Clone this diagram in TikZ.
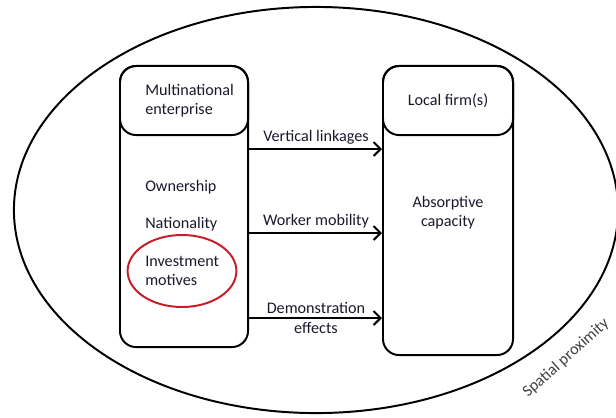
\documentclass[tikz,border=0pt]{standalone}
\usepackage{fontspec}
\setmainfont{Carlito}
\usetikzlibrary{arrows.meta,shapes.geometric,positioning}
\definecolor{rojo}{RGB}{196,30,40}
\definecolor{texto}{RGB}{25,25,45}
\begin{document}
\begin{tikzpicture}[x=0.025cm,y=-0.025cm,
        font=\fontsize{11.5}{13.5}\selectfont,text=texto,
        caja/.style={draw,line width=1.4pt,rounded corners=0.4cm,inner sep=0pt},
        flecha/.style={-{Straight Barb[length=5pt,width=10pt]},line width=1.4pt},
        etiq/.style={inner sep=2pt}]
        \useasboundingbox (0,0) rectangle (616,417);
        % Elipse exterior
        \node[draw,ellipse,line width=1.4pt,minimum width=15.1cm,minimum height=10.15cm] (prox) at (316,210) {};
        \node[rotate=42,text=black!75] (spat) at (566,358) {Spatial proximity};
        % Caja izquierda
        \node[caja,minimum width=3.2cm,minimum height=7.025cm] (izq) at (184,206.5) {};
        \node[caja,minimum width=3.2cm,minimum height=1.725cm] (izqcab) at (184,100.5) {};
        \node[anchor=west,align=left,inner sep=0pt] (mne) at (145,101) {Multinational\\enterprise};
        \node[anchor=west,inner sep=0pt] (own) at (145,187) {Ownership};
        \node[anchor=west,inner sep=0pt] (nat) at (145,224) {Nationality};
        \node[anchor=west,align=left,inner sep=0pt] (inv) at (145,271) {Investment\\motives};
        \node[draw=rojo,ellipse,line width=1.4pt,minimum width=2.72cm,minimum height=1.8cm] (motivos) at (182,271) {};
        % Caja derecha
        \node[caja,minimum width=3.25cm,minimum height=7.225cm] (der) at (448,210.5) {};
        \node[caja,minimum width=3.25cm,minimum height=1.725cm] (dercab) at (448,100.5) {Local firm(s)};
        \node[align=center,inner sep=0pt] (abs) at (448,213) {Absorptive\\capacity};
        % Flechas
        \coordinate (f1) at (316,149);
        \coordinate (f2) at (316,233);
        \coordinate (f3) at (316,318);
        \node[etiq,above=1pt of f1] (vl) {Vertical linkages};
        \node[etiq,above=1pt of f2] (wm) {Worker mobility};
        \node[etiq,above=1pt of f3] (dem) {Demonstration};
        \node[etiq,below=1pt of f3] (eff) {effects};
        \draw[flecha] (izq.east |- f1) -- (der.west |- f1);
        \draw[flecha] (izq.east |- f2) -- (der.west |- f2);
        \draw[flecha] (izq.east |- f3) -- (der.west |- f3);
    \end{tikzpicture}
\end{document}
